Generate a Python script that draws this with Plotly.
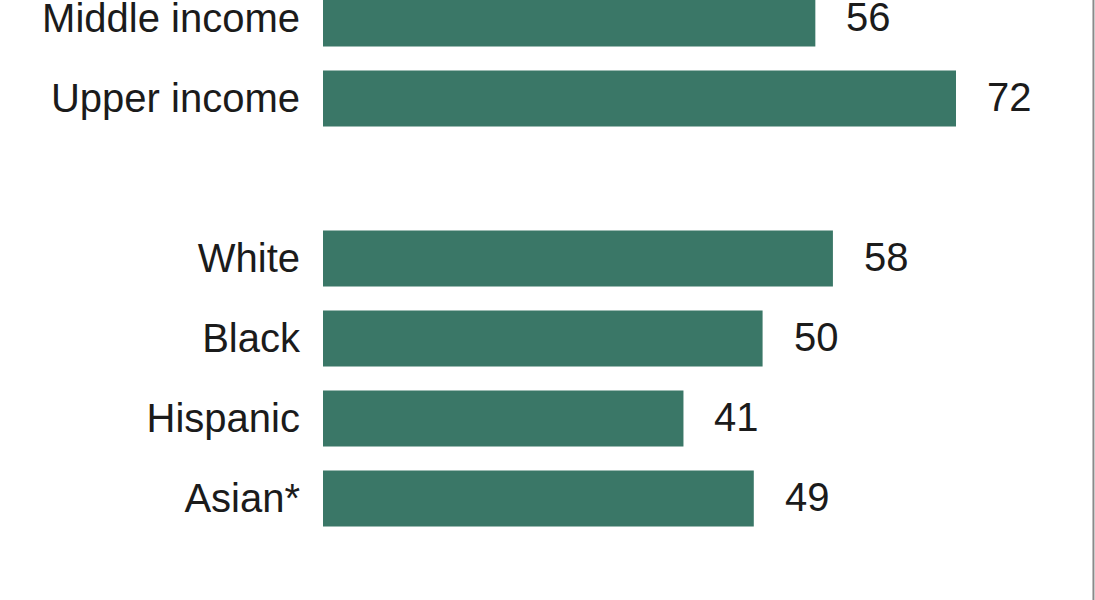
import plotly.graph_objects as go

# Share by group (percent)
categories = ["Middle income", "Upper income", "", "White", "Black", "Hispanic", "Asian*"]
values = [56, 72, None, 58, 50, 41, 49]

BAR_COLOR = "#3a7767"
TEXT_COLOR = "#1b1b1b"
FONT = "Liberation Sans, Arial, sans-serif"

positions = list(range(len(categories)))
bar_pos = [p for p, v in zip(positions, values) if v is not None]
bar_val = [v for v in values if v is not None]

fig = go.Figure()
fig.add_trace(go.Bar(
    x=bar_val,
    y=bar_pos,
    orientation="h",
    marker=dict(color=BAR_COLOR, line=dict(width=0)),
    width=0.7,
    hoverinfo="skip",
))

# value labels to the right of each bar
for p, v in zip(bar_pos, bar_val):
    fig.add_annotation(
        x=v, y=p, text=str(v), showarrow=False,
        xanchor="left", yanchor="middle", xshift=29, yshift=1,
        font=dict(family=FONT, size=40, color=TEXT_COLOR),
    )

# thin frame line at the right edge
fig.add_shape(type="line", xref="paper", yref="paper",
              x0=0.998, x1=0.998, y0=0, y1=1,
              line=dict(color="#8a8a8a", width=2))

fig.update_layout(
    width=1095, height=600,
    margin=dict(l=323, r=0, t=0, b=0, autoexpand=False),
    paper_bgcolor="white", plot_bgcolor="white",
    showlegend=False,
    bargap=0.3,
)
fig.update_xaxes(range=[0, 87.81], visible=False, fixedrange=True,
                 automargin=False)
fig.update_yaxes(
    range=[7.269, -0.231],
    tickmode="array",
    tickvals=bar_pos,
    ticktext=[categories[p] for p in bar_pos],
    tickfont=dict(family=FONT, size=40, color=TEXT_COLOR),
    ticks="",
    ticklabelstandoff=22,
    ticklabeloverflow="allow",
    automargin=False,
    showgrid=False, zeroline=False, showline=False,
    fixedrange=True,
)

fig.write_html("out.html", config={"displayModeBar": False})
